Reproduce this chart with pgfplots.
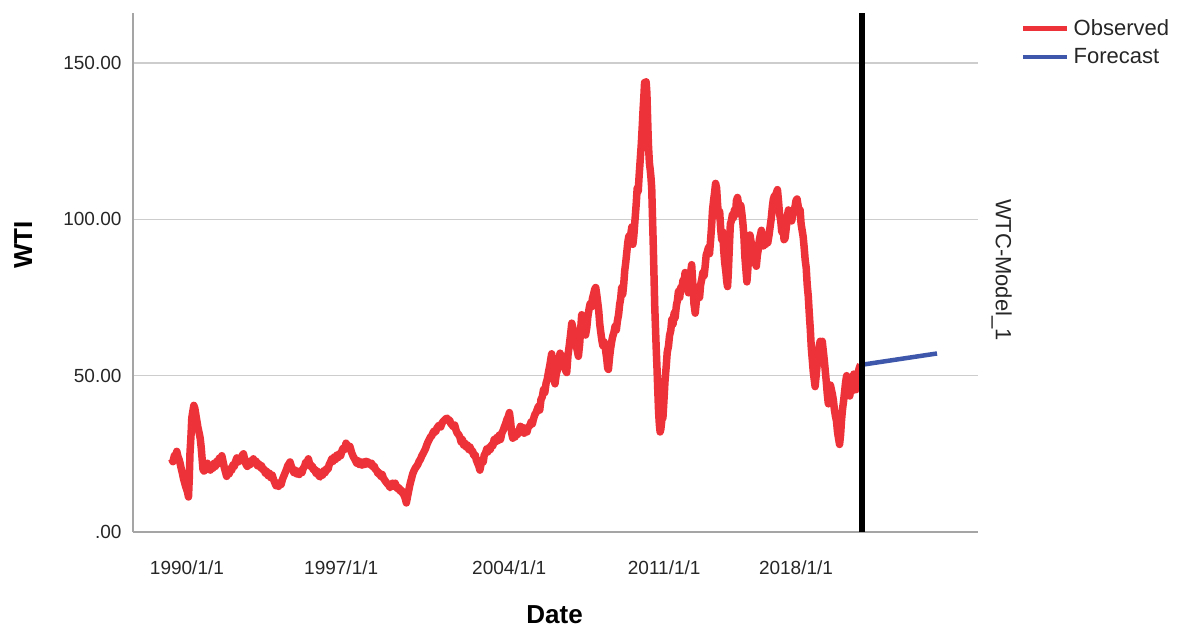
\documentclass[border=0pt]{standalone}
\usepackage{fontspec}
\setmainfont{Liberation Sans}
\usepackage{pgfplots}
\pgfplotsset{compat=1.18}
\definecolor{obsred}{RGB}{237,50,57}
\definecolor{fcblue}{RGB}{62,87,170}
\definecolor{gridgray}{RGB}{205,205,205}
\definecolor{axgray}{RGB}{165,165,165}
\begin{document}
\begin{tikzpicture}
\useasboundingbox (-133pt,-101pt) rectangle (1045pt,532pt);
\begin{axis}[
  scale only axis, width=845pt, height=519pt,
  clip mode=individual,
  xmin=1988.41, xmax=2021.61, ymin=0, ymax=166,
  axis x line*=bottom, axis y line*=left,
  axis line style={-, draw=axgray, line width=1.3pt},
  xtick={1990.53,1996.59,2003.19,2009.28,2014.46},
  xticklabels={1990/1/1,1997/1/1,2004/1/1,2011/1/1,2018/1/1},
  ytick={0,50,100,150}, yticklabels={.00,50.00,100.00,150.00},
  major tick length=0pt,
  ymajorgrids, grid style={gridgray, line width=1.3pt},
  tick label style={font=\fontsize{19}{22}\selectfont, text=black!85},
  xticklabel style={anchor=center, yshift=-36pt},
  yticklabel style={anchor=east, xshift=-8pt},
  xlabel={Date}, ylabel={WTI},
  xlabel style={at={(axis description cs:0.499,-0.16)}, anchor=center, font=\bfseries\fontsize{26}{30}\selectfont},
  ylabel style={at={(axis description cs:-0.130,0.553)}, anchor=center, font=\bfseries\fontsize{26}{30}\selectfont},
  legend style={at={(axis description cs:1.0509,0.991)}, anchor=north west, draw=none, fill=none,
    font=\fontsize{22}{26}\selectfont, row sep=7.5pt, column sep=2pt, inner sep=0pt, text=black!85},
  legend cell align=left,
  legend image code/.code={\draw[#1, line width=4.5pt] (0pt,0pt) -- (44pt,0pt);},
]
\addplot[obsred, line width=7.5pt, line join=round] coordinates {
(1989.93,23.4) (1989.98,22.5) (1990.04,24.5) (1990.09,23.8) (1990.13,25.8) (1990.18,24.0) (1990.22,23.2) (1990.26,22.0) (1990.30,20.5) (1990.35,18.8) (1990.39,17.2) (1990.43,16.0) (1990.47,14.8) (1990.52,13.6) (1990.56,12.5) (1990.59,11.2) (1990.62,17) (1990.65,25.4) (1990.69,31) (1990.72,36.5) (1990.76,38.5) (1990.80,40.5) (1990.84,39.5) (1990.88,37.5) (1990.92,35.5) (1990.96,33.5) (1991.00,32) (1991.05,30) (1991.09,27) (1991.13,23) (1991.16,20) (1991.20,19.5) (1991.25,21.5) (1991.29,20.5) (1991.33,22) (1991.37,20.0) (1991.41,21.5) (1991.45,19.8) (1991.50,21.3) (1991.55,20.4) (1991.60,22.0) (1991.65,21.0) (1991.70,22.6) (1991.75,21.8) (1991.80,23.6) (1991.85,22.8) (1991.90,24.4) (1991.95,22.5) (1992.00,20.5) (1992.05,19.0) (1992.09,17.8) (1992.14,19.2) (1992.19,18.6) (1992.24,20.3) (1992.29,19.8) (1992.34,21.5) (1992.39,21.0) (1992.44,22.6) (1992.49,23.7) (1992.54,22.4) (1992.59,23.6) (1992.64,22.8) (1992.70,24.5) (1992.75,25.0) (1992.80,23.2) (1992.85,21.6) (1992.90,21.0) (1992.95,22.2) (1993.00,21.5) (1993.05,22.8) (1993.10,22.2) (1993.14,23.4) (1993.20,22.0) (1993.25,22.6) (1993.30,21.2) (1993.35,21.8) (1993.40,20.6) (1993.46,21.2) (1993.51,19.8) (1993.56,20.2) (1993.61,18.8) (1993.66,19.4) (1993.72,18.0) (1993.77,18.8) (1993.82,17.4) (1993.88,18.2) (1993.93,16.8) (1993.98,15.8) (1994.03,14.8) (1994.08,15.6) (1994.13,14.6) (1994.18,15.8) (1994.23,15.2) (1994.28,16.8) (1994.33,17.8) (1994.39,19.0) (1994.44,20.0) (1994.49,21.2) (1994.54,21.8) (1994.58,22.4) (1994.63,21.0) (1994.68,20.2) (1994.73,19.0) (1994.78,19.8) (1994.84,18.6) (1994.89,19.4) (1994.94,18.4) (1995.00,19.6) (1995.05,19.0) (1995.10,20.4) (1995.15,21.0) (1995.20,22.4) (1995.25,22.0) (1995.30,23.4) (1995.35,21.8) (1995.40,20.8) (1995.45,21.2) (1995.50,19.8) (1995.55,20.2) (1995.60,18.8) (1995.66,19.4) (1995.71,18.0) (1995.76,17.6) (1995.81,18.8) (1995.86,18.2) (1995.91,19.6) (1995.96,19.0) (1996.02,20.4) (1996.07,20.0) (1996.12,21.6) (1996.17,22.4) (1996.22,23.4) (1996.27,22.6) (1996.32,24.0) (1996.37,23.2) (1996.42,24.6) (1996.47,23.8) (1996.52,25.0) (1996.57,24.4) (1996.62,26.0) (1996.68,27.0) (1996.73,26.4) (1996.78,28.4) (1996.83,27.6) (1996.88,26.8) (1996.93,27.4) (1997.00,25.4) (1997.05,24.4) (1997.10,23.6) (1997.15,22.8) (1997.20,22.0) (1997.25,22.8) (1997.30,21.6) (1997.36,22.4) (1997.41,21.4) (1997.46,22.4) (1997.51,21.6) (1997.57,22.6) (1997.62,21.8) (1997.67,22.4) (1997.73,21.4) (1997.78,22.0) (1997.83,20.8) (1997.88,21.2) (1997.94,20.0) (1997.99,19.6) (1998.04,18.6) (1998.09,19.0) (1998.15,17.8) (1998.20,18.4) (1998.25,17.2) (1998.30,16.6) (1998.35,16.0) (1998.41,15.4) (1998.46,15.0) (1998.51,14.2) (1998.56,14.8) (1998.61,15.6) (1998.66,14.6) (1998.71,15.6) (1998.76,14.4) (1998.81,13.8) (1998.86,14.2) (1998.91,13.0) (1998.96,13.4) (1999.01,12.4) (1999.06,11.8) (1999.11,10.6) (1999.15,9.3) (1999.20,11.5) (1999.25,13.5) (1999.30,15.5) (1999.35,17.0) (1999.40,18.6) (1999.45,19.6) (1999.50,20.4) (1999.55,21.0) (1999.60,21.6) (1999.65,22.6) (1999.70,23.2) (1999.75,24.2) (1999.80,25.0) (1999.85,25.8) (1999.90,26.6) (1999.95,27.8) (2000.00,28.8) (2000.05,29.6) (2000.10,30.4) (2000.15,30.8) (2000.20,31.8) (2000.25,32.4) (2000.30,32.0) (2000.35,33.2) (2000.40,33.8) (2000.45,34.2) (2000.50,33.6) (2000.55,34.8) (2000.60,35.4) (2000.65,35.8) (2000.70,36.2) (2000.75,36.4) (2000.80,35.6) (2000.85,35.8) (2000.90,34.6) (2000.95,34.2) (2001.00,33.6) (2001.05,34.2) (2001.10,32.6) (2001.15,31.6) (2001.20,31.2) (2001.25,30.4) (2001.30,28.8) (2001.35,29.6) (2001.40,27.8) (2001.45,28.4) (2001.50,27.2) (2001.55,27.8) (2001.60,26.4) (2001.65,27.2) (2001.70,25.8) (2001.75,26.0) (2001.80,24.4) (2001.85,24.8) (2001.90,23.0) (2001.95,22.0) (2002.00,21.0) (2002.04,19.8)
(2002.08,21.5) (2002.12,23.0) (2002.17,22.4) (2002.21,24.6) (2002.26,25.2) (2002.31,26.6) (2002.35,25.6) (2002.40,27.0) (2002.45,26.4) (2002.50,28.0) (2002.55,27.6) (2002.60,29.6) (2002.65,28.8) (2002.70,30.2) (2002.75,29.2) (2002.80,31.0) (2002.85,29.6) (2002.90,31.6) (2002.95,32.4) (2003.00,33.6) (2003.05,34.6) (2003.10,36.0) (2003.15,36.8) (2003.20,38.2) (2003.25,35.0) (2003.29,31.5) (2003.33,30.0) (2003.37,31.0) (2003.42,30.4) (2003.47,32.0) (2003.52,31.2) (2003.58,32.6) (2003.63,33.8) (2003.68,32.6) (2003.73,33.4) (2003.78,31.6) (2003.84,32.8) (2003.89,32.0) (2003.94,33.6) (2004.00,34.0) (2004.05,35.2) (2004.10,34.6) (2004.14,36.0) (2004.20,37.6) (2004.25,38.2) (2004.30,39.4) (2004.34,40.2) (2004.39,39.0) (2004.44,42.4) (2004.49,43.2) (2004.54,45.6) (2004.59,44.6) (2004.64,47.6) (2004.69,49.0) (2004.73,51.0) (2004.78,53.0) (2004.82,55.0) (2004.86,57.0) (2004.90,52.0) (2004.95,49.0) (2004.99,47.4) (2005.04,50.5) (2005.09,52.0) (2005.14,54.6) (2005.19,57.2) (2005.23,55.0) (2005.28,56.4) (2005.32,54.4) (2005.37,52.6) (2005.41,51.6) (2005.45,51.0) (2005.50,56.5) (2005.55,59.6) (2005.60,63.0) (2005.65,66.8) (2005.70,65.0) (2005.74,64.4) (2005.78,62.6) (2005.83,59.4) (2005.87,57.8) (2005.91,56.2) (2005.96,60.2) (2006.00,65.0) (2006.04,69.5) (2006.09,66.0) (2006.14,64.4) (2006.19,63.0) (2006.24,65.4) (2006.28,68.8) (2006.33,71.4) (2006.37,73.0) (2006.42,72.0) (2006.46,74.6) (2006.51,76.2) (2006.55,77.6) (2006.59,78.2) (2006.63,76.0) (2006.67,73.4) (2006.71,70.6) (2006.75,66.4) (2006.79,63.8) (2006.83,61.4) (2006.87,59.6) (2006.92,60.8) (2006.97,58.6) (2007.02,55.6) (2007.06,52.4) (2007.09,52.0) (2007.13,55.6) (2007.17,58.4) (2007.22,61.0) (2007.26,62.6) (2007.31,64.0) (2007.35,65.8) (2007.40,64.6) (2007.44,67.4) (2007.49,69.6) (2007.53,72.8) (2007.57,74.6) (2007.61,78.2) (2007.65,76.0) (2007.69,79.2) (2007.73,83.6) (2007.77,86.2) (2007.81,89.4) (2007.85,92.6) (2007.89,94.6) (2007.93,92.4) (2007.97,95.4) (2008.01,97.6) (2008.05,92.0) (2008.09,95.0) (2008.14,100.5) (2008.18,104.8) (2008.22,110.0) (2008.26,109.0) (2008.30,114.5) (2008.34,119.2) (2008.38,124.0) (2008.42,130.0) (2008.45,135.0) (2008.48,139.0) (2008.51,143.8) (2008.54,143.0) (2008.57,144.0) (2008.60,140.5) (2008.63,132.0) (2008.66,124.0) (2008.70,118.0) (2008.73,116.0) (2008.76,113.5) (2008.79,110.0) (2008.82,101.0) (2008.85,92.0) (2008.88,82.0) (2008.91,72.0) (2008.94,65.0) (2008.97,58.0) (2009.00,52.0) (2009.03,45.0) (2009.06,38.5) (2009.09,34.5) (2009.12,32.0) (2009.15,33.0) (2009.19,36.0) (2009.23,36.5) (2009.27,42.0) (2009.31,48.0) (2009.36,53.0) (2009.40,57.5) (2009.45,59.5) (2009.49,62.8) (2009.54,64.5) (2009.58,68.0) (2009.63,66.5) (2009.67,70.0) (2009.71,68.5) (2009.76,72.5) (2009.80,74.0) (2009.84,77.0) (2009.89,75.0) (2009.93,78.2) (2009.97,77.5) (2010.02,80.5) (2010.06,79.0) (2010.10,83.0) (2010.14,80.0) (2010.19,78.5) (2010.23,76.5) (2010.27,80.0) (2010.32,83.0) (2010.36,85.5) (2010.40,80.0) (2010.45,73.0) (2010.50,70.0) (2010.54,73.5) (2010.58,76.0) (2010.63,77.5) (2010.67,75.0) (2010.71,79.0) (2010.76,81.0) (2010.80,83.0) (2010.85,82.0) (2010.89,85.0) (2010.93,88.5) (2010.97,89.5) (2011.02,91.0) (2011.06,89.0) (2011.10,93.0) (2011.14,97.5) (2011.18,103.0) (2011.22,106.0) (2011.26,108.5) (2011.30,111.5) (2011.34,110.0) (2011.38,104.5) (2011.42,101.0) (2011.46,102.5) (2011.50,97.0) (2011.54,93.5) (2011.58,96.0) (2011.62,90.0) (2011.66,86.0) (2011.70,83.5) (2011.74,80.0) (2011.77,78.5) (2011.80,83.0) (2011.84,91.0) (2011.88,98.5) (2011.92,99.5) (2011.96,101.5) (2012.00,100.5) (2012.04,103.0) (2012.08,101.5) (2012.12,106.0) (2012.16,107.0) (2012.20,105.0) (2012.25,103.5) (2012.29,104.5) (2012.33,102.0) (2012.37,99.0) (2012.41,95.0) (2012.45,88.0) (2012.49,84.0) (2012.53,80.0) (2012.57,84.5) (2012.61,90.0) (2012.65,95.0) (2012.69,93.0) (2012.73,91.5) (2012.77,89.0) (2012.81,87.0) (2012.86,86.0) (2012.90,85.0) (2012.94,88.5) (2012.98,90.5) (2013.02,93.5) (2013.06,95.0) (2013.10,96.5) (2013.14,93.5) (2013.18,91.5) (2013.22,94.0) (2013.27,92.0) (2013.31,94.5) (2013.35,92.5) (2013.40,95.0) (2013.44,97.5) (2013.49,100.5) (2013.53,104.0) (2013.57,106.5) (2013.61,107.5) (2013.65,105.5) (2013.69,108.5) (2013.73,109.5) (2013.77,106.0) (2013.81,102.0) (2013.86,99.5) (2013.90,96.0) (2013.95,97.5) (2013.99,93.5) (2014.03,94.0) (2014.08,97.5) (2014.12,101.0) (2014.16,103.0) (2014.20,100.5) (2014.25,101.5) (2014.29,99.5) (2014.33,101.5) (2014.38,102.5) (2014.42,104.0) (2014.46,106.0) (2014.50,106.5) (2014.54,104.5) (2014.58,102.5) (2014.62,103.0) (2014.66,98.5) (2014.70,96.5) (2014.74,94.5) (2014.78,91.0) (2014.82,87.0) (2014.86,84.5) (2014.90,79.0) (2014.94,75.5) (2014.98,70.0) (2015.02,65.0) (2015.06,59.0) (2015.10,55.0) (2015.14,51.0) (2015.18,48.5) (2015.21,46.5) (2015.25,50.0) (2015.29,53.5) (2015.33,56.5) (2015.37,59.5) (2015.41,61.0) (2015.45,60.0) (2015.49,61.0) (2015.53,58.0) (2015.57,55.0) (2015.61,51.5) (2015.65,48.0) (2015.69,44.0) (2015.73,41.0) (2015.77,44.5) (2015.81,47.0) (2015.85,45.5) (2015.89,44.0) (2015.93,42.0) (2015.97,39.0) (2016.01,37.0) (2016.05,35.5) (2016.09,32.0) (2016.13,30.0) (2016.17,28.0) (2016.21,31.0) (2016.25,36.0) (2016.29,39.5) (2016.33,42.0) (2016.37,45.0) (2016.41,48.0) (2016.45,50.0) (2016.49,48.0) (2016.53,45.0) (2016.57,43.5) (2016.61,46.5) (2016.65,45.0) (2016.69,48.5) (2016.73,50.5) (2016.77,48.5) (2016.81,45.5) (2016.85,47.0) (2016.89,50.5) (2016.93,52.0) (2016.97,53.0) (2017.00,53.5)
};
\addlegendentry{Observed}
\addplot[fcblue, line width=4.5pt] coordinates {(2017.05,53.5) (2020.0,57.1)};
\addlegendentry{Forecast}
\addplot[black, line width=5.5pt, forget plot] coordinates {(2017.05,0) (2017.05,166)};
\node[rotate=-90, font=\fontsize{22}{26}\selectfont, text=black!85] at (axis description cs:1.028,0.505) {WTC-Model\_1};
\end{axis}
\end{tikzpicture}
\end{document}
